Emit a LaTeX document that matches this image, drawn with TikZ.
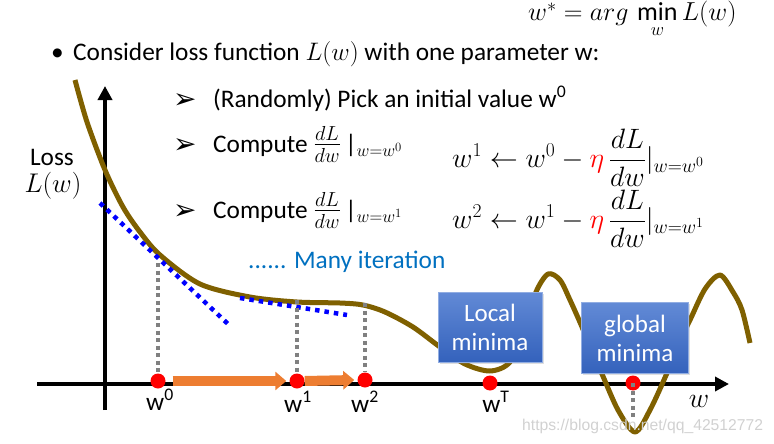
\documentclass[tikz,border=0pt]{standalone}
\usepackage{fix-cm}
\usepackage{amsmath}
\usepackage{fontspec}
\setmainfont{Carlito}
\newfontfamily\dejavu{DejaVu Sans}
\newfontfamily\wmfont{Liberation Sans}
\usetikzlibrary{arrows.meta,calc,shadows}
\definecolor{curvec}{RGB}{127,96,0}
\definecolor{boxtop}{RGB}{98,138,214}
\definecolor{boxbot}{RGB}{52,98,188}
\definecolor{orangefill}{RGB}{237,125,49}
\definecolor{iterblue}{RGB}{0,112,192}
\definecolor{dotgray}{RGB}{128,128,128}
\begin{document}
\begin{tikzpicture}[x=1pt,y=-1pt,
  txt/.style={font=\fontsize{25.3}{30}\selectfont, inner sep=0pt},
  eqn/.style={font=\fontsize{28}{34}\selectfont, inner sep=0pt},
  pointer/.style={font=\dejavu\fontsize{28}{30}\selectfont, inner sep=0pt},
  reddot/.style={circle, fill=red, minimum size=15pt, inner sep=0pt},
  guide/.style={draw=dotgray, line width=4pt, dash pattern=on 4pt off 3.5pt},
  tangent/.style={draw=blue, line width=4.5pt, dash pattern=on 4.5pt off 5pt},
  infobox/.style={rectangle, top color=boxtop, bottom color=boxbot, draw=boxtop!70!white,
    line width=0.8pt, text=white, align=center, inner sep=0pt,
    font=\fontsize{25}{29}\selectfont, drop shadow={opacity=0.25, shadow xshift=1.5pt, shadow yshift=-1.5pt}},
  axisline/.style={line width=3.8pt, -{Triangle[length=14pt,width=14pt]}},
  steparrow/.style={draw=orangefill, line width=10pt, -{Triangle[length=11pt,width=18pt]}},
  ]
\useasboundingbox (0,0) rectangle (774,444);

% axes
\coordinate (yb) at (105,410);
\coordinate (yt) at (105,86);
\coordinate (xl) at (37,384);
\coordinate (xr) at (729,384);
\draw[axisline] (yb) -- (yt);
\draw[axisline] (xl) -- (xr);

% loss curve
\draw[curvec, line width=5pt, line join=round] plot[smooth, tension=0.5] coordinates {
 (75,80) (87,122) (105,170) (123,207) (140,232) (160,255) (200,284) (250,297) (297,302)
 (340,303) (363,305) (385,312) (413,327) (440,347) (465,364) (490,371) (510,362)
 (525,328) (536,292) (548,274) (560,280) (570,300) (582,327) (592,352) (602,374)
 (618,410) (635,432) (650,410) (667,373) (678,345) (690,320) (705,289) (720,275)
 (733,292) (742,310) (750,343)};

% tangents
\coordinate (t1a) at (100,203);
\coordinate (t1b) at (228,324);
\coordinate (t2a) at (240,298);
\coordinate (t2b) at (347,315);
\draw[tangent] (t1a) -- (t1b);
\draw[tangent] (t2a) -- (t2b);

% points on axis
\node[reddot] (d0) at (158,381) {};
\node[reddot] (d1) at (297,381) {};
\node[reddot] (d2) at (365,380) {};
\node[reddot] (dT) at (490,383) {};
\node[reddot] (dG) at (633,383) {};

% guides
\coordinate (g0) at (158,263);
\coordinate (g1) at (297,300);
\coordinate (g2) at (365,303);
\coordinate (gG) at (633,418);
\draw[guide] (g0) -- (d0.north);
\draw[guide] (g1) -- (d1.north);
\draw[guide] (g2) -- (d2.north);
\draw[guide] (dG.center) -- (gG);

% step arrows
\draw[steparrow] ($(d0.east)+(7,0)$) -- ($(d1.west)+(-3,0)$);
\draw[steparrow] ($(d1.east)+(0,0)$) -- ($(d2.west)+(-3,0)$);

% boxes
\node[infobox, minimum width=104pt, minimum height=70pt] (lm) at (490,327) {Local\\minima};
\node[infobox, minimum width=107pt, minimum height=71pt] (gm) at (635,338) {global\\minima};

% axis labels
\node[txt, anchor=base] (lw0) at (160,410) {w\textsuperscript{0}};
\node[txt, anchor=base] (lw1) at (298,412) {w\textsuperscript{1}};
\node[txt, anchor=base] (lw2) at (365,412) {w\textsuperscript{2}};
\node[txt, anchor=base] (lwT) at (496,412) {w\textsuperscript{T}};
\node[eqn, anchor=base] (lw) at (699,407) {$w$};
\node[txt, anchor=base] (loss) at (52,165) {Loss};
\node[txt, anchor=base, font=\fontsize{27}{30}\selectfont] (lossw) at (53,192) {$L(w)$};

% top formula
\node[inner sep=0pt, anchor=base west, font=\fontsize{26}{30}\selectfont] (argmin) at (528,21)
  {$w^* = arg\,\min\limits_{w} L(w)$};

% bullet line
\node[txt, anchor=base west] (bul) at (51,60) {•};
\node[txt, anchor=base west] (consider) at (73,60) {Consider loss function $L(w)$ with one parameter w:};

% sub-bullets
\node[pointer, anchor=base west] (p1) at (173,108) {➢};
\node[txt, anchor=base west] (s1) at (213,107) {(Randomly) Pick an initial value w\textsuperscript{0}};
\node[pointer, anchor=base west] (p2) at (173,153) {➢};
\node[txt, anchor=base west] (s2) at (213,152) {Compute {\fontsize{29}{30}\selectfont$\frac{dL}{dw}$}\,|$_{w=w^0}$};
\node[pointer, anchor=base west] (p3) at (173,219) {➢};
\node[txt, anchor=base west] (s3) at (213,218) {Compute {\fontsize{29}{30}\selectfont$\frac{dL}{dw}$}\,|$_{w=w^1}$};

\node[txt, anchor=base west, text=iterblue] (many) at (248,268) {...... Many iteration};

% update equations
\node[eqn, anchor=base west] (eq1) at (452,167)
  {$w^1 \leftarrow w^0 - {\color{red}\eta}\,\dfrac{dL}{dw}|_{w=w^0}$};
\node[eqn, anchor=base west] (eq2) at (452,228)
  {$w^2 \leftarrow w^1 - {\color{red}\eta}\,\dfrac{dL}{dw}|_{w=w^1}$};

% watermark
\node[inner sep=0pt, anchor=base west, font=\wmfont\fontsize{15.7}{18}\selectfont, text=black!18] (wm)
  at (522,430) {https://blog.csdn.net/qq\_42512772};
\end{tikzpicture}
\end{document}
